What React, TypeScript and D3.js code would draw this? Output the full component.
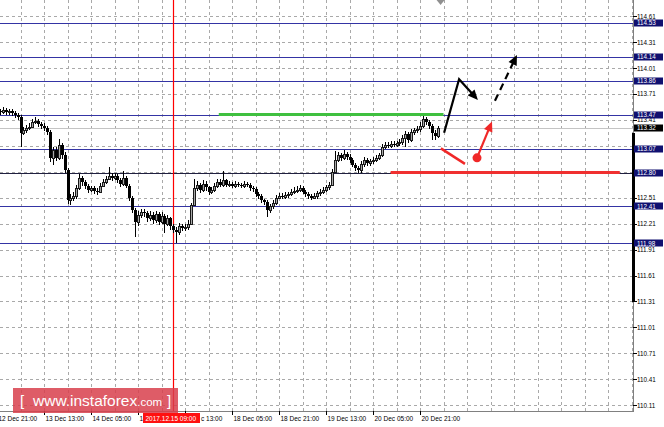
import React from 'react';
import * as d3 from 'd3';

// H1 candles, bar 0 = 12 Dec 21:00; open of each bar = previous close
const firstOpen = 113.5;
const closes = [
  113.51, 113.5, 113.52, 113.5, 113.51, 113.49, 113.47, 113.44, 113.26, 113.29,
  113.32, 113.33, 113.39, 113.4, 113.36, 113.34, 113.32, 113.27, 112.97, 113.06,
  112.97, 113.12, 113.0, 112.83, 112.48, 112.51, 112.53, 112.62, 112.74, 112.69,
  112.65, 112.6, 112.62, 112.59, 112.58, 112.65, 112.69, 112.73, 112.76, 112.74,
  112.76, 112.71, 112.67, 112.74, 112.65, 112.51, 112.37, 112.23, 112.31, 112.34,
  112.33, 112.27, 112.31, 112.25, 112.32, 112.23, 112.3, 112.21, 112.27, 112.18,
  112.14, 112.11, 112.18, 112.16, 112.17, 112.21, 112.43, 112.62, 112.66, 112.6,
  112.67, 112.63, 112.58, 112.6, 112.65, 112.69, 112.66, 112.71, 112.66, 112.67,
  112.65, 112.67, 112.66, 112.65, 112.67, 112.66, 112.62, 112.61, 112.55, 112.53,
  112.48, 112.46, 112.37, 112.41, 112.45, 112.51, 112.53, 112.52, 112.54, 112.55,
  112.58, 112.59, 112.6, 112.62, 112.58, 112.55, 112.53, 112.51, 112.53, 112.56,
  112.58, 112.6, 112.63, 112.66, 112.81, 112.95, 113.0, 112.97, 113.01, 112.98,
  112.95, 112.89, 112.85, 112.83, 112.9, 112.95, 112.91, 112.93, 112.95, 112.97,
  113.0, 113.1, 113.12, 113.11, 113.13, 113.12, 113.14, 113.15, 113.2, 113.25,
  113.18, 113.27, 113.29, 113.3, 113.34, 113.42, 113.39, 113.34, 113.26, 113.22,
  113.32,
];
const highs = [
  113.55, 113.54, 113.56, 113.55, 113.54, 113.53, 113.51, 113.49, 113.46, 113.33,
  113.35, 113.37, 113.42, 113.44, 113.42, 113.39, 113.37, 113.34, 113.29, 113.1,
  113.09, 113.19, 113.14, 113.04, 112.85, 112.55, 112.57, 112.66, 112.78, 112.76,
  112.71, 112.67, 112.65, 112.64, 112.62, 112.68, 112.72, 112.76, 112.86, 112.79,
  112.8, 112.78, 112.74, 112.82, 112.76, 112.67, 112.53, 112.39, 112.35, 112.38,
  112.38, 112.36, 112.35, 112.34, 112.36, 112.34, 112.34, 112.32, 112.31, 112.29,
  112.21, 112.17, 112.22, 112.21, 112.21, 112.25, 112.45, 112.72, 112.7, 112.68,
  112.71, 112.7, 112.65, 112.63, 112.68, 112.73, 112.72, 112.82, 112.73, 112.7,
  112.69, 112.7, 112.69, 112.68, 112.7, 112.69, 112.68, 112.65, 112.63, 112.57,
  112.55, 112.5, 112.48, 112.44, 112.48, 112.54, 112.56, 112.56, 112.58, 112.58,
  112.61, 112.63, 112.64, 112.66, 112.64, 112.6, 112.57, 112.55, 112.56, 112.59,
  112.61, 112.63, 112.66, 112.69, 112.84, 113.05, 113.04, 113.03, 113.06, 113.04,
  113.01, 112.97, 112.91, 112.88, 112.93, 112.98, 112.97, 112.96, 112.98, 113.0,
  113.03, 113.13, 113.15, 113.15, 113.16, 113.16, 113.17, 113.19, 113.24, 113.28,
  113.27, 113.3, 113.32, 113.34, 113.38, 113.45, 113.44, 113.41, 113.36, 113.29,
  113.34,
];
const lows = [
  113.47, 113.47, 113.48, 113.47, 113.46, 113.45, 113.43, 113.41, 113.09, 113.23,
  113.26, 113.29, 113.31, 113.36, 113.33, 113.3, 113.28, 113.24, 112.92, 112.89,
  112.93, 112.94, 112.96, 112.8, 112.44, 112.43, 112.47, 112.5, 112.6, 112.65,
  112.61, 112.56, 112.57, 112.55, 112.54, 112.56, 112.63, 112.67, 112.71, 112.7,
  112.71, 112.68, 112.63, 112.64, 112.62, 112.47, 112.33, 112.05, 112.18, 112.28,
  112.29, 112.23, 112.24, 112.21, 112.22, 112.19, 112.2, 112.1, 112.18, 112.14,
  112.1, 111.99, 112.08, 112.12, 112.13, 112.14, 112.19, 112.41, 112.59, 112.56,
  112.57, 112.59, 112.54, 112.55, 112.57, 112.62, 112.63, 112.63, 112.63, 112.63,
  112.62, 112.62, 112.63, 112.62, 112.62, 112.63, 112.59, 112.58, 112.52, 112.5,
  112.45, 112.42, 112.29, 112.33, 112.38, 112.43, 112.49, 112.49, 112.5, 112.51,
  112.53, 112.55, 112.56, 112.57, 112.55, 112.52, 112.5, 112.48, 112.49, 112.5,
  112.53, 112.55, 112.57, 112.6, 112.64, 112.79, 112.92, 112.93, 112.94, 112.94,
  112.91, 112.86, 112.82, 112.79, 112.8, 112.87, 112.88, 112.88, 112.9, 112.92,
  112.94, 112.98, 113.07, 113.08, 113.08, 113.09, 113.09, 113.11, 113.12, 113.09,
  113.14, 113.15, 113.24, 113.26, 113.27, 113.31, 113.35, 113.3, 113.18, 113.18,
  113.2,
];

const priceTicks = [
  114.61, 114.31, 114.01, 113.71, 113.41, 113.11, 112.81, 112.51, 112.21, 111.91,
  111.61, 111.31, 111.01, 110.71, 110.41, 110.11,
];
const levelPrices = [114.53, 114.14, 113.86, 113.47, 113.07, 112.8, 112.41, 111.98];
const bidPrice = 113.32;

const timeLabels = [
  '12 Dec 21:00', '13 Dec 13:00', '14 Dec 05:00', '14 Dec 21:00', '15 Dec 13:00',
  '18 Dec 05:00', '18 Dec 21:00', '19 Dec 13:00', '20 Dec 05:00', '20 Dec 21:00',
];
const barsPerLabel = 16;
const cursorBar = 60;
const cursorLabel = '2017.12.15 09:00';

// forecast drawings, [bar, price]
const resistanceZone = { from: 75.5, to: 152, price: 113.47 };
const supportZone = { from: 134, to: 212, price: 112.8 };
const bullPath: [number, number][] = [[152.2, 113.26], [157.3, 113.88], [163.7, 113.64]];
const bullDashed: [number, number][] = [[169.5, 113.63], [177, 114.16]];
const bearPath: [number, number][] = [[151.1, 113.08], [159.3, 112.9]];
const bearDot: [number, number] = [163.4, 112.97];
const bearUp: [number, number][] = [[163.4, 112.97], [168.5, 113.39]];

const W = 664;
const H = 427;
const plotRight = 633;
const plotBottom = 411;
const font = '"Liberation Sans", Arial, sans-serif';
const navy = '#3434a4';

function Arrow({ pts, color, dash, x, y }: { pts: [number, number][]; color: string; dash?: string; x: any; y: any }) {
  const p = pts.map(d => [x(d[0]), y(d[1])]);
  const [a, b] = [p[p.length - 2], p[p.length - 1]];
  const ang = Math.atan2(b[1] - a[1], b[0] - a[0]);
  const len = 10, wid = 4.5;
  const bx = b[0] - len * Math.cos(ang), by = b[1] - len * Math.sin(ang);
  const head = [
    [b[0], b[1]],
    [bx + wid * Math.sin(ang), by - wid * Math.cos(ang)],
    [bx - wid * Math.sin(ang), by + wid * Math.cos(ang)],
  ];
  const shaft = p.slice(0, -1).concat([[b[0] - (len - 2) * Math.cos(ang), b[1] - (len - 2) * Math.sin(ang)]]);
  return (
    <g>
      <path d={d3.line()(shaft as any) || ''} fill="none" stroke={color} strokeWidth={2.2} strokeDasharray={dash} strokeLinejoin="miter" />
      <path d={'M' + head.map(h => h.join(',')).join('L') + 'Z'} fill={color} />
    </g>
  );
}

export default function App() {
  const x = d3.scaleLinear().domain([0, 216.5]).range([-3, plotRight]);
  const y = d3.scaleLinear().domain([110.11, 114.61]).range([405.25, 16]);
  const opens = [firstOpen].concat(closes.slice(0, -1));
  const vGrid = d3.range(8, 217, 8);
  const py = (p: number) => Math.round(y(p)) + 0.5;
  const cursorX = Math.round(x(cursorBar)) + 0.5;
  // tick labels that sit under a level box are hidden, as in the terminal
  const freeTicks = priceTicks.filter(t => levelPrices.every(l => Math.abs(l - t) > 0.05));

  return (
    <svg width={W} height={H} style={{ position: 'fixed', left: 0, top: 0, background: '#fff' }} fontFamily={font}>
      <rect width={W} height={H} fill="#fff" />
      <defs>
        <clipPath id="plot"><rect x={0} y={0} width={plotRight} height={plotBottom} /></clipPath>
      </defs>

      <g clipPath="url(#plot)">
        {/* grid */}
        {priceTicks.map(t => (
          <line key={'h' + t} x1={0} x2={plotRight} y1={py(t)} y2={py(t)}
            stroke="#a9a9a9" strokeDasharray="3,3" />
        ))}
        {vGrid.map(i => (
          <line key={'v' + i} x1={Math.round(x(i)) + 0.5} x2={Math.round(x(i)) + 0.5} y1={0} y2={plotBottom}
            stroke="#a9a9a9" strokeDasharray="3,3" />
        ))}

        {/* bid line */}
        <line x1={0} x2={plotRight} y1={py(bidPrice)} y2={py(bidPrice)} stroke="#c4c4c4" />

        {/* levels */}
        {levelPrices.map(p => (
          <line key={'l' + p} x1={0} x2={plotRight} y1={py(p)} y2={py(p)}
            stroke={p === 112.8 ? '#202040' : navy} strokeWidth={1} />
        ))}

        {/* cursor line */}
        <line x1={cursorX} x2={cursorX} y1={0} y2={plotBottom} stroke="#ff0000" strokeWidth={1.2} />

        {/* candles */}
        {closes.map((c, i) => {
          const o = opens[i];
          const cx = Math.round(x(i));
          const top = Math.round(y(Math.max(o, c)));
          const bot = Math.round(y(Math.min(o, c)));
          const bull = c >= o;
          return (
            <g key={'c' + i}>
              <line x1={cx + 0.5} x2={cx + 0.5} y1={Math.round(y(highs[i]))} y2={Math.round(y(lows[i]))} stroke="#000" />
              {bull ? (
                <rect x={cx - 0.5} y={top + 0.5} width={2} height={Math.max(bot - top, 1)} fill="#a8a8a8" stroke="#1a1a1a" />
              ) : (
                <rect x={cx - 1} y={top} width={3} height={Math.max(bot - top, 1)} fill="#000" />
              )}
            </g>
          );
        })}

        {/* zones */}
        <line x1={x(resistanceZone.from)} x2={x(resistanceZone.to)} y1={y(resistanceZone.price)} y2={y(resistanceZone.price)}
          stroke="#3fc03f" strokeWidth={3} />
        <line x1={x(supportZone.from)} x2={x(supportZone.to)} y1={y(supportZone.price)} y2={y(supportZone.price)}
          stroke="#f03030" strokeWidth={3} />

        {/* forecast arrows */}
        <Arrow pts={bullPath} color="#000" x={x} y={y} />
        <Arrow pts={bullDashed} color="#000" dash="7,5" x={x} y={y} />
        <path d={d3.line()(bearPath.map(d => [x(d[0]), y(d[1])]) as any) || ''} stroke="#f02828" strokeWidth={2.5} fill="none" />
        <Arrow pts={bearUp} color="#f02828" x={x} y={y} />
        <circle cx={x(bearDot[0])} cy={y(bearDot[1])} r={4.5} fill="#f02828" />

        {/* shift marker */}
        <path d={`M${x(151) - 4},0L${x(151) + 4},0L${x(151)},5Z`} fill="#909090" />
      </g>

      {/* axes */}
      <line x1={plotRight + 0.5} x2={plotRight + 0.5} y1={0} y2={plotBottom} stroke="#808080" />
      <line x1={0} x2={plotRight + 1} y1={plotBottom + 0.5} y2={plotBottom + 0.5} stroke="#808080" />
      <line x1={plotRight + 0.5} x2={plotRight + 0.5} y1={133} y2={302} stroke="#000" strokeWidth={3} />

      {priceTicks.map(t => (
        <line key={'tk' + t} x1={plotRight} x2={plotRight + 4} y1={py(t)} y2={py(t)} stroke="#000" />
      ))}
      {freeTicks.map(t => (
        <text key={'pt' + t} x={637} y={y(t) + 2.6} fontSize={6.3} fill="#000">{t.toFixed(2)}</text>
      ))}

      {levelPrices.map(p => (
        <g key={'lb' + p}>
          <rect x={634} y={Math.round(y(p)) - 3.5} width={29} height={7} fill="#101070" />
          <text x={637} y={y(p) + 2.2} fontSize={6.3} fill="#fff">{p.toFixed(2)}</text>
        </g>
      ))}
      <rect x={634} y={Math.round(y(bidPrice)) - 3.5} width={29} height={7} fill="#000" />
      <text x={637} y={y(bidPrice) + 2.2} fontSize={6.3} fill="#fff">{bidPrice.toFixed(2)}</text>

      {timeLabels.map((lab, k) => {
        const tx = Math.round(x(k * barsPerLabel)) + 0.5;
        // labels under the cursor date box only show their uncovered part
        let shown = lab;
        let lx = tx + 1;
        if (tx > 130 && tx < 143) shown = lab.slice(0, 2);
        if (tx >= 143 && tx <= 200) { shown = lab.slice(5); lx = 201; }
        return (
          <g key={lab}>
            <line x1={tx} x2={tx} y1={plotBottom} y2={plotBottom + 4} stroke="#000" />
            <text x={lx} y={420.5} fontSize={6.5} fill="#000">{shown}</text>
          </g>
        );
      })}

      <rect x={143} y={413} width={57} height={10} fill="#ff1010" />
      <text x={145.5} y={420.5} fontSize={6.5} fill="#fff">{cursorLabel}</text>

      {/* watermark */}
      <rect x={13} y={388} width={165} height={25} fill="#d8404c" opacity={0.85} />
      <text y={406} fill="#fff" fontFamily={font}>
        <tspan x={20} fontSize={15}>[</tspan>
        <tspan x={33} fontSize={15.5}>www.instaforex</tspan>
        <tspan fontSize={11.5}>.com</tspan>
        <tspan x={167} fontSize={15}>]</tspan>
      </text>
    </svg>
  );
}
